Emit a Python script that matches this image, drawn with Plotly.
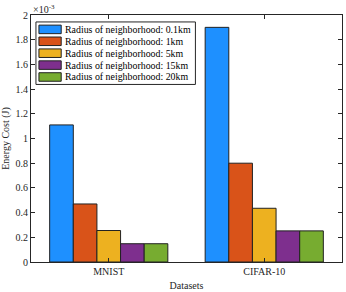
import plotly.graph_objects as go

datasets = ["MNIST", "CIFAR-10"]
series_names = [
    "Radius of neighborhood: 0.1km",
    "Radius of neighborhood: 1km",
    "Radius of neighborhood: 5km",
    "Radius of neighborhood: 15km",
    "Radius of neighborhood: 20km",
]
# energy cost in units of 1e-3 J
r01 = [1.11, 1.90]
r1 = [0.47, 0.80]
r5 = [0.255, 0.435]
r15 = [0.148, 0.252]
r20 = [0.148, 0.252]
series_values = [r01, r1, r5, r15, r20]
colors = ["#1E90FF", "#D95319", "#EDB120", "#7E2F8E", "#77AC30"]
ytick_vals = [0, 0.2, 0.4, 0.6, 0.8, 1, 1.2, 1.4, 1.6, 1.8, 2]

font = "Liberation Serif"
W, H = 346, 292
ML, MR, MT, MB = 29, 3, 15, 28
PW, PH = W - ML - MR, H - MT - MB

def px(x):
    return (x - ML) / PW

def py(y):
    return (H - MB - y) / PH

fig = go.Figure()
for name, vals, c in zip(series_names, series_values, colors):
    fig.add_trace(go.Bar(x=[1, 2], y=vals, name=name, showlegend=False,
                         marker=dict(color=c, line=dict(color="#222222", width=1))))

# custom compact legend (MATLAB style)
shapes = [dict(type="rect", xref="paper", yref="paper",
               x0=px(34), x1=px(195), y0=py(85), y1=py(22),
               fillcolor="white", line=dict(color="#262626", width=1), layer="above")]
annotations = []
for i, (name, c) in enumerate(zip(series_names, colors)):
    cy = 29.5 + 12 * i
    shapes.append(dict(type="rect", xref="paper", yref="paper",
                       x0=px(37), x1=px(59.5), y0=py(cy + 4.3), y1=py(cy - 4.3),
                       fillcolor=c, line=dict(color="#222222", width=1), layer="above"))
    annotations.append(dict(text=name, xref="paper", yref="paper", x=px(61), y=py(cy),
                            xanchor="left", yanchor="middle", showarrow=False,
                            font=dict(size=9.9, family=font, color="#000000")))

annotations.append(dict(text="\u00d710<sup>-3</sup>", xref="paper", yref="paper", x=0, y=1,
                        xanchor="left", yanchor="bottom", showarrow=False, yshift=-2,
                        font=dict(size=10, family=font, color="#262626")))

fig.update_layout(
    width=W, height=H,
    margin=dict(l=ML, r=MR, t=MT, b=MB),
    paper_bgcolor="white", plot_bgcolor="white",
    barmode="group", bargap=0.24, bargroupgap=0,
    font=dict(family=font, size=10, color="#262626"),
    showlegend=False,
    xaxis=dict(range=[0.5, 2.5], tickvals=[1, 2], ticktext=datasets,
               ticks="inside", ticklen=4, tickcolor="#262626",
               showline=True, linecolor="#262626", linewidth=1, mirror="ticks",
               showgrid=False, zeroline=False,
               title=dict(text="Datasets", font=dict(size=10, family=font), standoff=5)),
    yaxis=dict(range=[0, 2], tickvals=ytick_vals,
               ticks="inside", ticklen=4, tickcolor="#262626",
               showline=True, linecolor="#262626", linewidth=1, mirror="ticks",
               showgrid=False, zeroline=False,
               title=dict(text="Energy Cost (J)", font=dict(size=10, family=font), standoff=5)),
    shapes=shapes,
    annotations=annotations,
)
fig.write_html("out.html", config={"displayModeBar": False},
               post_script="document.body.style.margin='0';document.body.style.overflow='hidden';")
